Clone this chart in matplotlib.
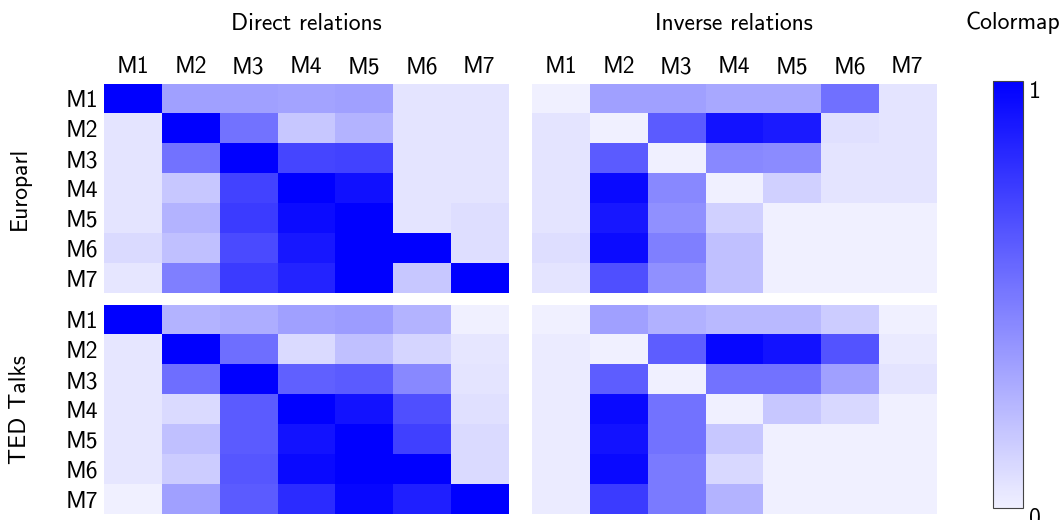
import numpy as np
import matplotlib.pyplot as plt
from matplotlib.colors import LinearSegmentedColormap

plt.rcParams['font.family'] = ['cmss10', 'DejaVu Sans']
plt.rcParams['axes.formatter.use_mathtext'] = True
plt.rcParams['font.size'] = 17

models = ['M1', 'M2', 'M3', 'M4', 'M5', 'M6', 'M7']
corpora = ['Europarl', 'TED Talks']
relations = ['Direct relations', 'Inverse relations']

europarl_direct = [
    [1.00, 0.33, 0.33, 0.32, 0.33, 0.05, 0.05],
    [0.05, 1.00, 0.52, 0.17, 0.25, 0.05, 0.05],
    [0.05, 0.52, 1.00, 0.71, 0.72, 0.05, 0.05],
    [0.05, 0.17, 0.72, 1.00, 0.93, 0.05, 0.05],
    [0.05, 0.25, 0.75, 0.95, 1.00, 0.05, 0.075],
    [0.09, 0.20, 0.69, 0.90, 1.00, 1.00, 0.075],
    [0.04, 0.47, 0.75, 0.85, 1.00, 0.17, 1.00],
]
europarl_inverse = [
    [0.00, 0.33, 0.33, 0.30, 0.30, 0.53, 0.05],
    [0.05, 0.00, 0.62, 0.92, 0.89, 0.07, 0.05],
    [0.05, 0.62, 0.00, 0.43, 0.42, 0.05, 0.05],
    [0.05, 0.96, 0.43, 0.00, 0.13, 0.05, 0.05],
    [0.05, 0.90, 0.40, 0.13, 0.00, 0.00, 0.00],
    [0.075, 0.95, 0.47, 0.20, 0.00, 0.00, 0.00],
    [0.05, 0.67, 0.40, 0.20, 0.00, 0.00, 0.00],
]
ted_direct = [
    [1.00, 0.25, 0.28, 0.33, 0.35, 0.25, 0.00],
    [0.04, 1.00, 0.54, 0.09, 0.20, 0.11, 0.04],
    [0.04, 0.54, 1.00, 0.60, 0.62, 0.43, 0.05],
    [0.04, 0.09, 0.62, 1.00, 0.92, 0.67, 0.07],
    [0.04, 0.20, 0.62, 0.92, 1.00, 0.73, 0.09],
    [0.04, 0.15, 0.64, 0.96, 1.00, 1.00, 0.09],
    [0.00, 0.33, 0.62, 0.82, 0.97, 0.87, 1.00],
]
ted_inverse = [
    [0.00, 0.33, 0.26, 0.23, 0.23, 0.15, 0.00],
    [0.02, 0.00, 0.61, 0.97, 0.92, 0.65, 0.025],
    [0.02, 0.61, 0.00, 0.52, 0.52, 0.33, 0.05],
    [0.02, 0.96, 0.52, 0.00, 0.17, 0.10, 0.00],
    [0.02, 0.92, 0.52, 0.17, 0.00, 0.00, 0.00],
    [0.02, 0.96, 0.49, 0.10, 0.00, 0.00, 0.00],
    [0.02, 0.75, 0.49, 0.25, 0.00, 0.00, 0.00],
]

grids = [[europarl_direct, europarl_inverse], [ted_direct, ted_inverse]]

cmap = LinearSegmentedColormap.from_list('blues', ['#f0f0ff', '#0000ff'])

fig = plt.figure(figsize=(10.61, 5.2), dpi=100)

lefts = [0.098, 0.5014]
bottoms = [0.4365, 0.0115]
w, h = 0.381, 0.402

for i in range(2):
    for j in range(2):
        ax = fig.add_axes([lefts[j], bottoms[i], w, h])
        im = ax.imshow(np.array(grids[i][j]), cmap=cmap, vmin=0, vmax=1,
                       aspect='auto', interpolation='nearest')
        for s in ax.spines.values():
            s.set_visible(False)
        ax.tick_params(length=0, top=False, bottom=False, left=False,
                       labelbottom=False, labeltop=(i == 0), labelleft=(j == 0), pad=4)
        ax.set_xticks(range(7))
        ax.set_yticks(range(7))
        ax.set_xticklabels(models)
        ax.set_yticklabels(models)

for j, name in enumerate(relations):
    fig.text(lefts[j] + w / 2, 0.953, name, ha='center', va='center')
for i, name in enumerate(corpora):
    fig.text(0.019, bottoms[i] + h / 2, name, ha='center', va='center', rotation=90)

cax = fig.add_axes([0.9359, 0.0231, 0.0283, 0.8211])
cb = fig.colorbar(im, cax=cax, ticks=[0, 1])
cb.outline.set_edgecolor('#444444')
cb.outline.set_linewidth(0.8)
cax.tick_params(length=0, pad=4)
cax.set_yticklabels(['0', '1'], va='top')
fig.text(0.955, 0.957, 'Colormap', ha='center', va='center')

fig.savefig('out.png', dpi=100)
